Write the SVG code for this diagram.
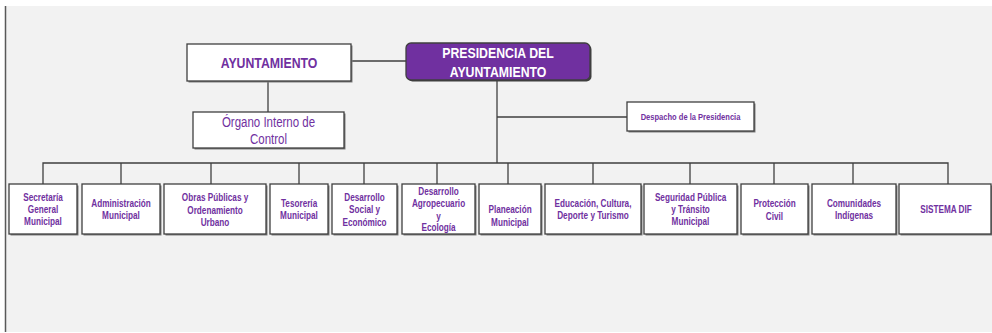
<svg xmlns="http://www.w3.org/2000/svg" width="992" height="333" viewBox="0 0 992 333">
<style>
.bx{fill:#ffffff;stroke:#3f3f3f;stroke-width:1.3}
.sh{fill:#7f7f7f}
.ln{stroke:#3f3f3f;stroke-width:1.3;fill:none}
text{transform-box:fill-box;transform-origin:center;transform:scaleX(0.82)}
.t{font-family:"Liberation Sans",Arial,sans-serif;font-weight:bold;fill:#7030a0;text-anchor:middle;font-size:10px}
.td{font-family:"Liberation Sans",Arial,sans-serif;font-weight:bold;fill:#7030a0;text-anchor:middle;font-size:9.2px}
.tn{font-family:"Liberation Sans",Arial,sans-serif;fill:#7030a0;text-anchor:middle;font-size:14px}
.tb{font-family:"Liberation Sans",Arial,sans-serif;font-weight:bold;text-anchor:middle;font-size:15px}
</style>
<rect x="0" y="0" width="992" height="333" fill="#ffffff"/>
<rect x="6" y="6" width="986" height="326" fill="#f2f2f2"/>
<line x1="5.5" y1="6" x2="5.5" y2="332" stroke="#595959" stroke-width="1.5"/>
<g id="connectors">
<line class="ln" x1="351" y1="61" x2="406" y2="61"/>
<line class="ln" x1="268" y1="81" x2="268" y2="112"/>
<line class="ln" x1="497" y1="80" x2="497" y2="163"/>
<line class="ln" x1="497" y1="117" x2="627" y2="117"/>
<polyline class="ln" points="43,184 43,163 948,163 948,184"/>
<line class="ln" x1="121" y1="163" x2="121" y2="184"/>
<line class="ln" x1="211" y1="163" x2="211" y2="184"/>
<line class="ln" x1="299" y1="163" x2="299" y2="184"/>
<line class="ln" x1="364" y1="163" x2="364" y2="184"/>
<line class="ln" x1="437" y1="163" x2="437" y2="184"/>
<line class="ln" x1="508" y1="163" x2="508" y2="184"/>
<line class="ln" x1="593" y1="163" x2="593" y2="184"/>
<line class="ln" x1="690" y1="163" x2="690" y2="184"/>
<line class="ln" x1="774" y1="163" x2="774" y2="184"/>
<line class="ln" x1="853" y1="163" x2="853" y2="184"/>
</g>
<g id="ayuntamiento">
<rect class="sh" x="188.5" y="45.5" width="164" height="37"/>
<rect class="bx" x="187" y="44" width="164" height="37"/>
<text class="tb" x="269" y="68" fill="#7030a0">AYUNTAMIENTO</text>
</g>
<g id="presidencia">
<rect x="407.5" y="44.5" width="184" height="37" rx="5" fill="#3f3f3f"/>
<rect x="406" y="43" width="184" height="37" rx="5" fill="#7030a0" stroke="#3f3f3f" stroke-width="1.3"/>
<text class="tb" x="498" y="58" fill="#ffffff">PRESIDENCIA DEL</text>
<text class="tb" x="498" y="77" fill="#ffffff">AYUNTAMIENTO</text>
</g>
<g id="organo">
<rect class="sh" x="194.5" y="113.5" width="151" height="36"/>
<rect class="bx" x="193" y="112" width="151" height="36"/>
<text class="tn" x="268.5" y="127">Órgano Interno de</text>
<text class="tn" x="268.5" y="144">Control</text>
</g>
<g id="despacho">
<rect class="sh" x="628.5" y="103.5" width="127" height="29"/>
<rect class="bx" x="627" y="102" width="127" height="29"/>
<text class="td" x="690.5" y="120.5">Despacho de la Presidencia</text>
</g>
<g id="secretaria">
<rect class="sh" x="10.5" y="185.5" width="68" height="50"/>
<rect class="bx" x="9" y="184" width="68" height="50"/>
<text class="t" x="43" y="201.5">Secretaría</text>
<text class="t" x="43" y="213">General</text>
<text class="t" x="43" y="225">Municipal</text>
</g>
<g id="administracion">
<rect class="sh" x="83.5" y="185.5" width="78" height="50"/>
<rect class="bx" x="82" y="184" width="78" height="50"/>
<text class="t" x="121" y="207.5">Administración</text>
<text class="t" x="121" y="219.5">Municipal</text>
</g>
<g id="obras">
<rect class="sh" x="165.5" y="185.5" width="102" height="50"/>
<rect class="bx" x="164" y="184" width="102" height="50"/>
<text class="t" x="215" y="201.5">Obras Públicas y</text>
<text class="t" x="215" y="214">Ordenamiento</text>
<text class="t" x="215" y="226.5">Urbano</text>
</g>
<g id="tesoreria">
<rect class="sh" x="271.5" y="185.5" width="58" height="50"/>
<rect class="bx" x="270" y="184" width="58" height="50"/>
<text class="t" x="299" y="207.5">Tesorería</text>
<text class="t" x="299" y="219.5">Municipal</text>
</g>
<g id="desarrollo-social">
<rect class="sh" x="333.5" y="185.5" width="65" height="50"/>
<rect class="bx" x="332" y="184" width="65" height="50"/>
<text class="t" x="364.5" y="201.5">Desarrollo</text>
<text class="t" x="364.5" y="213.5">Social y</text>
<text class="t" x="364.5" y="226">Económico</text>
</g>
<g id="desarrollo-agropecuario">
<rect class="sh" x="403.5" y="185.5" width="73" height="50"/>
<rect class="bx" x="402" y="184" width="73" height="50"/>
<text class="t" x="438.5" y="195.5">Desarrollo</text>
<text class="t" x="438.5" y="207.5">Agropecuario</text>
<text class="t" x="438.5" y="220">y</text>
<text class="t" x="438.5" y="231.5">Ecología</text>
</g>
<g id="planeacion">
<rect class="sh" x="480.5" y="185.5" width="62" height="50"/>
<rect class="bx" x="479" y="184" width="62" height="50"/>
<text class="t" x="510" y="213.5">Planeación</text>
<text class="t" x="510" y="226">Municipal</text>
</g>
<g id="educacion">
<rect class="sh" x="546.5" y="185.5" width="96" height="50"/>
<rect class="bx" x="545" y="184" width="96" height="50"/>
<text class="t" x="593" y="207.5">Educación, Cultura,</text>
<text class="t" x="593" y="219.5">Deporte y Turismo</text>
</g>
<g id="seguridad">
<rect class="sh" x="645.5" y="185.5" width="93" height="50"/>
<rect class="bx" x="644" y="184" width="93" height="50"/>
<text class="t" x="690.5" y="201.5">Seguridad Pública</text>
<text class="t" x="690.5" y="213.5">y Tránsito</text>
<text class="t" x="690.5" y="225.5">Municipal</text>
</g>
<g id="proteccion">
<rect class="sh" x="742.5" y="185.5" width="67" height="50"/>
<rect class="bx" x="741" y="184" width="67" height="50"/>
<text class="t" x="774.5" y="207.5">Protección</text>
<text class="t" x="774.5" y="220">Civil</text>
</g>
<g id="comunidades">
<rect class="sh" x="813.5" y="185.5" width="84" height="50"/>
<rect class="bx" x="812" y="184" width="84" height="50"/>
<text class="t" x="854" y="207.5">Comunidades</text>
<text class="t" x="854" y="219.5">Indígenas</text>
</g>
<g id="sistema-dif">
<rect class="sh" x="900.5" y="185.5" width="92" height="50"/>
<rect class="bx" x="899" y="184" width="92" height="50"/>
<text class="t" x="946" y="213.5">SISTEMA DIF</text>
</g>
</svg>
